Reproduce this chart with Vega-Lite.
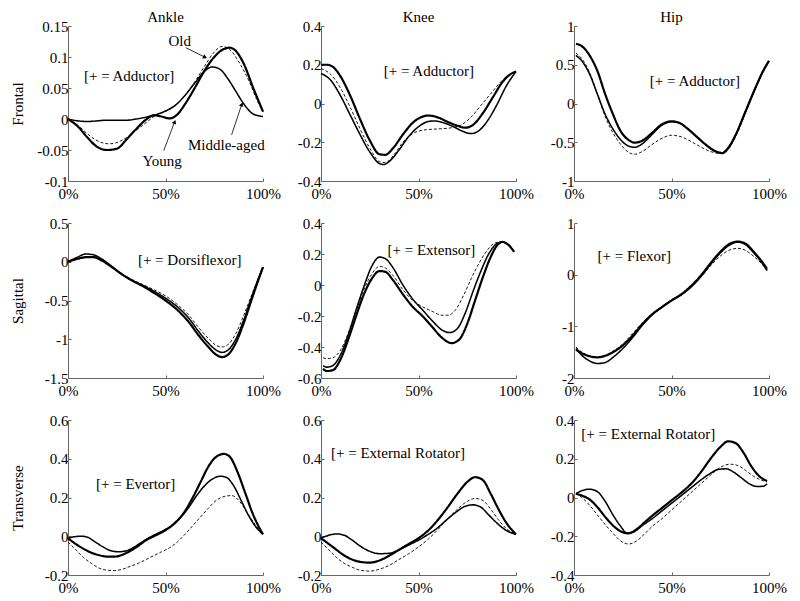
{
"$schema":"https://vega.github.io/schema/vega-lite/v6.json",
"padding":{"left":10,"top":10,"right":5,"bottom":5},
"background":"white",
"datasets":{
"curves":[
{"p":"AF","g":"Y","x":0,"y":0},{"p":"AF","g":"Y","x":5,"y":-0.012},{"p":"AF","g":"Y","x":10,"y":-0.03},{"p":"AF","g":"Y","x":15,"y":-0.045},{"p":"AF","g":"Y","x":20,"y":-0.05},{"p":"AF","g":"Y","x":25,"y":-0.048},{"p":"AF","g":"Y","x":30,"y":-0.033},{"p":"AF","g":"Y","x":35,"y":-0.016},{"p":"AF","g":"Y","x":40,"y":-0.001},{"p":"AF","g":"Y","x":44,"y":0.006},{"p":"AF","g":"Y","x":48,"y":0.004},{"p":"AF","g":"Y","x":52,"y":0.001},{"p":"AF","g":"Y","x":56,"y":0.007},{"p":"AF","g":"Y","x":60,"y":0.024},{"p":"AF","g":"Y","x":65,"y":0.05},{"p":"AF","g":"Y","x":70,"y":0.078},{"p":"AF","g":"Y","x":75,"y":0.1},{"p":"AF","g":"Y","x":80,"y":0.113},{"p":"AF","g":"Y","x":83,"y":0.115},{"p":"AF","g":"Y","x":86,"y":0.11},{"p":"AF","g":"Y","x":90,"y":0.09},{"p":"AF","g":"Y","x":95,"y":0.05},{"p":"AF","g":"Y","x":100,"y":0.012},
{"p":"AF","g":"M","x":0,"y":0},{"p":"AF","g":"M","x":5,"y":-0.003},{"p":"AF","g":"M","x":10,"y":-0.004},{"p":"AF","g":"M","x":20,"y":-0.002},{"p":"AF","g":"M","x":30,"y":-0.002},{"p":"AF","g":"M","x":35,"y":0},{"p":"AF","g":"M","x":40,"y":0.003},{"p":"AF","g":"M","x":45,"y":0.007},{"p":"AF","g":"M","x":50,"y":0.013},{"p":"AF","g":"M","x":55,"y":0.022},{"p":"AF","g":"M","x":60,"y":0.038},{"p":"AF","g":"M","x":65,"y":0.058},{"p":"AF","g":"M","x":70,"y":0.077},{"p":"AF","g":"M","x":74,"y":0.084},{"p":"AF","g":"M","x":78,"y":0.08},{"p":"AF","g":"M","x":82,"y":0.065},{"p":"AF","g":"M","x":86,"y":0.045},{"p":"AF","g":"M","x":90,"y":0.025},{"p":"AF","g":"M","x":95,"y":0.008},{"p":"AF","g":"M","x":100,"y":0.004},
{"p":"AF","g":"O","x":0,"y":0},{"p":"AF","g":"O","x":5,"y":-0.01},{"p":"AF","g":"O","x":10,"y":-0.024},{"p":"AF","g":"O","x":15,"y":-0.035},{"p":"AF","g":"O","x":21,"y":-0.04},{"p":"AF","g":"O","x":25,"y":-0.038},{"p":"AF","g":"O","x":30,"y":-0.03},{"p":"AF","g":"O","x":35,"y":-0.018},{"p":"AF","g":"O","x":40,"y":-0.006},{"p":"AF","g":"O","x":45,"y":0.006},{"p":"AF","g":"O","x":50,"y":0.012},{"p":"AF","g":"O","x":55,"y":0.022},{"p":"AF","g":"O","x":60,"y":0.038},{"p":"AF","g":"O","x":65,"y":0.06},{"p":"AF","g":"O","x":70,"y":0.085},{"p":"AF","g":"O","x":75,"y":0.108},{"p":"AF","g":"O","x":79,"y":0.117},{"p":"AF","g":"O","x":83,"y":0.112},{"p":"AF","g":"O","x":88,"y":0.09},{"p":"AF","g":"O","x":93,"y":0.06},{"p":"AF","g":"O","x":97,"y":0.03},{"p":"AF","g":"O","x":100,"y":0.012},

{"p":"KF","g":"Y","x":0,"y":0.2},{"p":"KF","g":"Y","x":3,"y":0.2},{"p":"KF","g":"Y","x":6,"y":0.19},{"p":"KF","g":"Y","x":10,"y":0.14},{"p":"KF","g":"Y","x":15,"y":0.04},{"p":"KF","g":"Y","x":20,"y":-0.08},{"p":"KF","g":"Y","x":25,"y":-0.19},{"p":"KF","g":"Y","x":30,"y":-0.262},{"p":"KF","g":"Y","x":33,"y":-0.265},{"p":"KF","g":"Y","x":37,"y":-0.23},{"p":"KF","g":"Y","x":42,"y":-0.16},{"p":"KF","g":"Y","x":47,"y":-0.1},{"p":"KF","g":"Y","x":52,"y":-0.068},{"p":"KF","g":"Y","x":55,"y":-0.062},{"p":"KF","g":"Y","x":60,"y":-0.072},{"p":"KF","g":"Y","x":65,"y":-0.095},{"p":"KF","g":"Y","x":70,"y":-0.115},{"p":"KF","g":"Y","x":74,"y":-0.125},{"p":"KF","g":"Y","x":78,"y":-0.11},{"p":"KF","g":"Y","x":83,"y":-0.05},{"p":"KF","g":"Y","x":88,"y":0.03},{"p":"KF","g":"Y","x":93,"y":0.11},{"p":"KF","g":"Y","x":97,"y":0.15},{"p":"KF","g":"Y","x":100,"y":0.165},
{"p":"KF","g":"M","x":0,"y":0.155},{"p":"KF","g":"M","x":5,"y":0.12},{"p":"KF","g":"M","x":10,"y":0.04},{"p":"KF","g":"M","x":15,"y":-0.06},{"p":"KF","g":"M","x":20,"y":-0.16},{"p":"KF","g":"M","x":25,"y":-0.25},{"p":"KF","g":"M","x":30,"y":-0.31},{"p":"KF","g":"M","x":32,"y":-0.315},{"p":"KF","g":"M","x":36,"y":-0.29},{"p":"KF","g":"M","x":40,"y":-0.24},{"p":"KF","g":"M","x":45,"y":-0.17},{"p":"KF","g":"M","x":50,"y":-0.12},{"p":"KF","g":"M","x":55,"y":-0.093},{"p":"KF","g":"M","x":58,"y":-0.09},{"p":"KF","g":"M","x":63,"y":-0.1},{"p":"KF","g":"M","x":68,"y":-0.12},{"p":"KF","g":"M","x":73,"y":-0.145},{"p":"KF","g":"M","x":77,"y":-0.155},{"p":"KF","g":"M","x":81,"y":-0.14},{"p":"KF","g":"M","x":86,"y":-0.08},{"p":"KF","g":"M","x":90,"y":-0.01},{"p":"KF","g":"M","x":95,"y":0.09},{"p":"KF","g":"M","x":100,"y":0.165},
{"p":"KF","g":"O","x":0,"y":0.18},{"p":"KF","g":"O","x":5,"y":0.15},{"p":"KF","g":"O","x":10,"y":0.08},{"p":"KF","g":"O","x":15,"y":-0.02},{"p":"KF","g":"O","x":20,"y":-0.13},{"p":"KF","g":"O","x":25,"y":-0.23},{"p":"KF","g":"O","x":30,"y":-0.3},{"p":"KF","g":"O","x":33,"y":-0.305},{"p":"KF","g":"O","x":37,"y":-0.27},{"p":"KF","g":"O","x":42,"y":-0.2},{"p":"KF","g":"O","x":47,"y":-0.155},{"p":"KF","g":"O","x":52,"y":-0.138},{"p":"KF","g":"O","x":57,"y":-0.133},{"p":"KF","g":"O","x":62,"y":-0.13},{"p":"KF","g":"O","x":67,"y":-0.125},{"p":"KF","g":"O","x":72,"y":-0.11},{"p":"KF","g":"O","x":77,"y":-0.07},{"p":"KF","g":"O","x":82,"y":-0.01},{"p":"KF","g":"O","x":87,"y":0.05},{"p":"KF","g":"O","x":92,"y":0.11},{"p":"KF","g":"O","x":96,"y":0.145},{"p":"KF","g":"O","x":100,"y":0.165},

{"p":"HF","g":"Y","x":1,"y":0.77},{"p":"HF","g":"Y","x":4,"y":0.74},{"p":"HF","g":"Y","x":8,"y":0.62},{"p":"HF","g":"Y","x":12,"y":0.42},{"p":"HF","g":"Y","x":16,"y":0.12},{"p":"HF","g":"Y","x":20,"y":-0.14},{"p":"HF","g":"Y","x":24,"y":-0.36},{"p":"HF","g":"Y","x":28,"y":-0.47},{"p":"HF","g":"Y","x":31,"y":-0.505},{"p":"HF","g":"Y","x":35,"y":-0.48},{"p":"HF","g":"Y","x":40,"y":-0.38},{"p":"HF","g":"Y","x":45,"y":-0.27},{"p":"HF","g":"Y","x":50,"y":-0.23},{"p":"HF","g":"Y","x":54,"y":-0.25},{"p":"HF","g":"Y","x":58,"y":-0.32},{"p":"HF","g":"Y","x":63,"y":-0.43},{"p":"HF","g":"Y","x":68,"y":-0.54},{"p":"HF","g":"Y","x":72,"y":-0.61},{"p":"HF","g":"Y","x":76,"y":-0.64},{"p":"HF","g":"Y","x":79,"y":-0.58},{"p":"HF","g":"Y","x":83,"y":-0.4},{"p":"HF","g":"Y","x":88,"y":-0.1},{"p":"HF","g":"Y","x":93,"y":0.2},{"p":"HF","g":"Y","x":97,"y":0.42},{"p":"HF","g":"Y","x":100,"y":0.55},
{"p":"HF","g":"M","x":1,"y":0.62},{"p":"HF","g":"M","x":4,"y":0.55},{"p":"HF","g":"M","x":8,"y":0.38},{"p":"HF","g":"M","x":12,"y":0.12},{"p":"HF","g":"M","x":16,"y":-0.14},{"p":"HF","g":"M","x":20,"y":-0.33},{"p":"HF","g":"M","x":24,"y":-0.47},{"p":"HF","g":"M","x":28,"y":-0.55},{"p":"HF","g":"M","x":31,"y":-0.565},{"p":"HF","g":"M","x":35,"y":-0.52},{"p":"HF","g":"M","x":40,"y":-0.4},{"p":"HF","g":"M","x":45,"y":-0.28},{"p":"HF","g":"M","x":50,"y":-0.235},{"p":"HF","g":"M","x":54,"y":-0.25},{"p":"HF","g":"M","x":58,"y":-0.32},{"p":"HF","g":"M","x":63,"y":-0.43},{"p":"HF","g":"M","x":68,"y":-0.54},{"p":"HF","g":"M","x":72,"y":-0.61},{"p":"HF","g":"M","x":76,"y":-0.635},{"p":"HF","g":"M","x":79,"y":-0.57},{"p":"HF","g":"M","x":83,"y":-0.4},{"p":"HF","g":"M","x":88,"y":-0.1},{"p":"HF","g":"M","x":93,"y":0.2},{"p":"HF","g":"M","x":97,"y":0.42},{"p":"HF","g":"M","x":100,"y":0.55},
{"p":"HF","g":"O","x":1,"y":0.65},{"p":"HF","g":"O","x":4,"y":0.58},{"p":"HF","g":"O","x":8,"y":0.4},{"p":"HF","g":"O","x":12,"y":0.12},{"p":"HF","g":"O","x":16,"y":-0.17},{"p":"HF","g":"O","x":20,"y":-0.38},{"p":"HF","g":"O","x":24,"y":-0.53},{"p":"HF","g":"O","x":28,"y":-0.63},{"p":"HF","g":"O","x":31,"y":-0.655},{"p":"HF","g":"O","x":35,"y":-0.62},{"p":"HF","g":"O","x":40,"y":-0.53},{"p":"HF","g":"O","x":45,"y":-0.45},{"p":"HF","g":"O","x":50,"y":-0.41},{"p":"HF","g":"O","x":55,"y":-0.43},{"p":"HF","g":"O","x":60,"y":-0.49},{"p":"HF","g":"O","x":65,"y":-0.56},{"p":"HF","g":"O","x":70,"y":-0.62},{"p":"HF","g":"O","x":75,"y":-0.645},{"p":"HF","g":"O","x":79,"y":-0.59},{"p":"HF","g":"O","x":83,"y":-0.42},{"p":"HF","g":"O","x":88,"y":-0.12},{"p":"HF","g":"O","x":93,"y":0.19},{"p":"HF","g":"O","x":97,"y":0.41},{"p":"HF","g":"O","x":100,"y":0.54},

{"p":"AS","g":"Y","x":0,"y":0},{"p":"AS","g":"Y","x":5,"y":0.04},{"p":"AS","g":"Y","x":10,"y":0.06},{"p":"AS","g":"Y","x":13,"y":0.06},{"p":"AS","g":"Y","x":17,"y":0.02},{"p":"AS","g":"Y","x":22,"y":-0.06},{"p":"AS","g":"Y","x":27,"y":-0.15},{"p":"AS","g":"Y","x":32,"y":-0.23},{"p":"AS","g":"Y","x":38,"y":-0.31},{"p":"AS","g":"Y","x":44,"y":-0.4},{"p":"AS","g":"Y","x":50,"y":-0.5},{"p":"AS","g":"Y","x":56,"y":-0.62},{"p":"AS","g":"Y","x":62,"y":-0.78},{"p":"AS","g":"Y","x":67,"y":-0.95},{"p":"AS","g":"Y","x":72,"y":-1.1},{"p":"AS","g":"Y","x":76,"y":-1.2},{"p":"AS","g":"Y","x":79,"y":-1.23},{"p":"AS","g":"Y","x":82,"y":-1.2},{"p":"AS","g":"Y","x":86,"y":-1.05},{"p":"AS","g":"Y","x":90,"y":-0.8},{"p":"AS","g":"Y","x":94,"y":-0.5},{"p":"AS","g":"Y","x":97,"y":-0.28},{"p":"AS","g":"Y","x":100,"y":-0.07},
{"p":"AS","g":"M","x":0,"y":0},{"p":"AS","g":"M","x":5,"y":0.06},{"p":"AS","g":"M","x":9,"y":0.1},{"p":"AS","g":"M","x":13,"y":0.09},{"p":"AS","g":"M","x":17,"y":0.04},{"p":"AS","g":"M","x":22,"y":-0.05},{"p":"AS","g":"M","x":27,"y":-0.15},{"p":"AS","g":"M","x":32,"y":-0.23},{"p":"AS","g":"M","x":38,"y":-0.3},{"p":"AS","g":"M","x":44,"y":-0.38},{"p":"AS","g":"M","x":50,"y":-0.47},{"p":"AS","g":"M","x":56,"y":-0.58},{"p":"AS","g":"M","x":62,"y":-0.73},{"p":"AS","g":"M","x":67,"y":-0.9},{"p":"AS","g":"M","x":72,"y":-1.05},{"p":"AS","g":"M","x":76,"y":-1.14},{"p":"AS","g":"M","x":79,"y":-1.17},{"p":"AS","g":"M","x":82,"y":-1.14},{"p":"AS","g":"M","x":86,"y":-1.0},{"p":"AS","g":"M","x":90,"y":-0.76},{"p":"AS","g":"M","x":94,"y":-0.47},{"p":"AS","g":"M","x":97,"y":-0.26},{"p":"AS","g":"M","x":100,"y":-0.07},
{"p":"AS","g":"O","x":0,"y":0},{"p":"AS","g":"O","x":5,"y":0.03},{"p":"AS","g":"O","x":10,"y":0.06},{"p":"AS","g":"O","x":13,"y":0.055},{"p":"AS","g":"O","x":17,"y":0.02},{"p":"AS","g":"O","x":22,"y":-0.06},{"p":"AS","g":"O","x":27,"y":-0.15},{"p":"AS","g":"O","x":32,"y":-0.22},{"p":"AS","g":"O","x":38,"y":-0.29},{"p":"AS","g":"O","x":44,"y":-0.36},{"p":"AS","g":"O","x":50,"y":-0.44},{"p":"AS","g":"O","x":56,"y":-0.55},{"p":"AS","g":"O","x":62,"y":-0.69},{"p":"AS","g":"O","x":67,"y":-0.85},{"p":"AS","g":"O","x":72,"y":-0.99},{"p":"AS","g":"O","x":76,"y":-1.08},{"p":"AS","g":"O","x":79,"y":-1.1},{"p":"AS","g":"O","x":82,"y":-1.07},{"p":"AS","g":"O","x":86,"y":-0.93},{"p":"AS","g":"O","x":90,"y":-0.7},{"p":"AS","g":"O","x":94,"y":-0.44},{"p":"AS","g":"O","x":97,"y":-0.25},{"p":"AS","g":"O","x":100,"y":-0.07},

{"p":"KS","g":"Y","x":1,"y":-0.54},{"p":"KS","g":"Y","x":3,"y":-0.555},{"p":"KS","g":"Y","x":6,"y":-0.55},{"p":"KS","g":"Y","x":10,"y":-0.48},{"p":"KS","g":"Y","x":14,"y":-0.35},{"p":"KS","g":"Y","x":18,"y":-0.2},{"p":"KS","g":"Y","x":22,"y":-0.06},{"p":"KS","g":"Y","x":26,"y":0.04},{"p":"KS","g":"Y","x":30,"y":0.09},{"p":"KS","g":"Y","x":33,"y":0.085},{"p":"KS","g":"Y","x":37,"y":0.03},{"p":"KS","g":"Y","x":42,"y":-0.06},{"p":"KS","g":"Y","x":47,"y":-0.14},{"p":"KS","g":"Y","x":52,"y":-0.2},{"p":"KS","g":"Y","x":57,"y":-0.27},{"p":"KS","g":"Y","x":62,"y":-0.34},{"p":"KS","g":"Y","x":67,"y":-0.375},{"p":"KS","g":"Y","x":71,"y":-0.35},{"p":"KS","g":"Y","x":75,"y":-0.25},{"p":"KS","g":"Y","x":79,"y":-0.1},{"p":"KS","g":"Y","x":83,"y":0.05},{"p":"KS","g":"Y","x":87,"y":0.18},{"p":"KS","g":"Y","x":90,"y":0.25},{"p":"KS","g":"Y","x":93,"y":0.278},{"p":"KS","g":"Y","x":96,"y":0.26},{"p":"KS","g":"Y","x":99,"y":0.215},
{"p":"KS","g":"M","x":1,"y":-0.52},{"p":"KS","g":"M","x":3,"y":-0.53},{"p":"KS","g":"M","x":6,"y":-0.52},{"p":"KS","g":"M","x":10,"y":-0.45},{"p":"KS","g":"M","x":14,"y":-0.32},{"p":"KS","g":"M","x":18,"y":-0.16},{"p":"KS","g":"M","x":22,"y":-0.01},{"p":"KS","g":"M","x":26,"y":0.12},{"p":"KS","g":"M","x":30,"y":0.18},{"p":"KS","g":"M","x":33,"y":0.17},{"p":"KS","g":"M","x":37,"y":0.11},{"p":"KS","g":"M","x":42,"y":0.0},{"p":"KS","g":"M","x":47,"y":-0.09},{"p":"KS","g":"M","x":52,"y":-0.16},{"p":"KS","g":"M","x":57,"y":-0.23},{"p":"KS","g":"M","x":62,"y":-0.29},{"p":"KS","g":"M","x":66,"y":-0.307},{"p":"KS","g":"M","x":70,"y":-0.28},{"p":"KS","g":"M","x":74,"y":-0.18},{"p":"KS","g":"M","x":78,"y":-0.04},{"p":"KS","g":"M","x":82,"y":0.09},{"p":"KS","g":"M","x":86,"y":0.2},{"p":"KS","g":"M","x":90,"y":0.265},{"p":"KS","g":"M","x":93,"y":0.278},{"p":"KS","g":"M","x":96,"y":0.26},{"p":"KS","g":"M","x":99,"y":0.215},
{"p":"KS","g":"O","x":1,"y":-0.47},{"p":"KS","g":"O","x":3,"y":-0.475},{"p":"KS","g":"O","x":6,"y":-0.47},{"p":"KS","g":"O","x":10,"y":-0.42},{"p":"KS","g":"O","x":14,"y":-0.31},{"p":"KS","g":"O","x":18,"y":-0.17},{"p":"KS","g":"O","x":22,"y":-0.03},{"p":"KS","g":"O","x":26,"y":0.07},{"p":"KS","g":"O","x":30,"y":0.12},{"p":"KS","g":"O","x":33,"y":0.11},{"p":"KS","g":"O","x":37,"y":0.06},{"p":"KS","g":"O","x":42,"y":-0.03},{"p":"KS","g":"O","x":47,"y":-0.1},{"p":"KS","g":"O","x":52,"y":-0.14},{"p":"KS","g":"O","x":57,"y":-0.17},{"p":"KS","g":"O","x":62,"y":-0.195},{"p":"KS","g":"O","x":65,"y":-0.195},{"p":"KS","g":"O","x":69,"y":-0.16},{"p":"KS","g":"O","x":73,"y":-0.07},{"p":"KS","g":"O","x":77,"y":0.04},{"p":"KS","g":"O","x":81,"y":0.14},{"p":"KS","g":"O","x":85,"y":0.22},{"p":"KS","g":"O","x":89,"y":0.27},{"p":"KS","g":"O","x":92,"y":0.278},{"p":"KS","g":"O","x":96,"y":0.26},{"p":"KS","g":"O","x":99,"y":0.215},

{"p":"HS","g":"Y","x":1,"y":-1.45},{"p":"HS","g":"Y","x":4,"y":-1.52},{"p":"HS","g":"Y","x":8,"y":-1.58},{"p":"HS","g":"Y","x":12,"y":-1.6},{"p":"HS","g":"Y","x":16,"y":-1.57},{"p":"HS","g":"Y","x":20,"y":-1.5},{"p":"HS","g":"Y","x":25,"y":-1.37},{"p":"HS","g":"Y","x":30,"y":-1.18},{"p":"HS","g":"Y","x":35,"y":-0.96},{"p":"HS","g":"Y","x":40,"y":-0.77},{"p":"HS","g":"Y","x":45,"y":-0.63},{"p":"HS","g":"Y","x":50,"y":-0.5},{"p":"HS","g":"Y","x":55,"y":-0.38},{"p":"HS","g":"Y","x":60,"y":-0.22},{"p":"HS","g":"Y","x":65,"y":-0.02},{"p":"HS","g":"Y","x":70,"y":0.22},{"p":"HS","g":"Y","x":75,"y":0.44},{"p":"HS","g":"Y","x":80,"y":0.6},{"p":"HS","g":"Y","x":84,"y":0.64},{"p":"HS","g":"Y","x":88,"y":0.6},{"p":"HS","g":"Y","x":92,"y":0.45},{"p":"HS","g":"Y","x":96,"y":0.27},{"p":"HS","g":"Y","x":99,"y":0.11},
{"p":"HS","g":"M","x":1,"y":-1.43},{"p":"HS","g":"M","x":4,"y":-1.56},{"p":"HS","g":"M","x":8,"y":-1.67},{"p":"HS","g":"M","x":12,"y":-1.72},{"p":"HS","g":"M","x":16,"y":-1.7},{"p":"HS","g":"M","x":20,"y":-1.6},{"p":"HS","g":"M","x":25,"y":-1.43},{"p":"HS","g":"M","x":30,"y":-1.22},{"p":"HS","g":"M","x":35,"y":-0.98},{"p":"HS","g":"M","x":40,"y":-0.78},{"p":"HS","g":"M","x":45,"y":-0.63},{"p":"HS","g":"M","x":50,"y":-0.5},{"p":"HS","g":"M","x":55,"y":-0.39},{"p":"HS","g":"M","x":60,"y":-0.24},{"p":"HS","g":"M","x":65,"y":-0.04},{"p":"HS","g":"M","x":70,"y":0.2},{"p":"HS","g":"M","x":75,"y":0.42},{"p":"HS","g":"M","x":80,"y":0.58},{"p":"HS","g":"M","x":84,"y":0.63},{"p":"HS","g":"M","x":88,"y":0.58},{"p":"HS","g":"M","x":92,"y":0.43},{"p":"HS","g":"M","x":96,"y":0.25},{"p":"HS","g":"M","x":99,"y":0.08},
{"p":"HS","g":"O","x":1,"y":-1.4},{"p":"HS","g":"O","x":4,"y":-1.5},{"p":"HS","g":"O","x":8,"y":-1.57},{"p":"HS","g":"O","x":12,"y":-1.59},{"p":"HS","g":"O","x":16,"y":-1.56},{"p":"HS","g":"O","x":20,"y":-1.48},{"p":"HS","g":"O","x":25,"y":-1.34},{"p":"HS","g":"O","x":30,"y":-1.14},{"p":"HS","g":"O","x":35,"y":-0.93},{"p":"HS","g":"O","x":40,"y":-0.76},{"p":"HS","g":"O","x":45,"y":-0.62},{"p":"HS","g":"O","x":50,"y":-0.49},{"p":"HS","g":"O","x":55,"y":-0.38},{"p":"HS","g":"O","x":60,"y":-0.24},{"p":"HS","g":"O","x":65,"y":-0.05},{"p":"HS","g":"O","x":70,"y":0.17},{"p":"HS","g":"O","x":75,"y":0.36},{"p":"HS","g":"O","x":80,"y":0.48},{"p":"HS","g":"O","x":84,"y":0.51},{"p":"HS","g":"O","x":88,"y":0.47},{"p":"HS","g":"O","x":92,"y":0.36},{"p":"HS","g":"O","x":96,"y":0.22},{"p":"HS","g":"O","x":99,"y":0.08},

{"p":"AT","g":"Y","x":0,"y":-0.01},{"p":"AT","g":"Y","x":4,"y":-0.04},{"p":"AT","g":"Y","x":8,"y":-0.065},{"p":"AT","g":"Y","x":12,"y":-0.085},{"p":"AT","g":"Y","x":16,"y":-0.098},{"p":"AT","g":"Y","x":20,"y":-0.105},{"p":"AT","g":"Y","x":24,"y":-0.105},{"p":"AT","g":"Y","x":28,"y":-0.095},{"p":"AT","g":"Y","x":32,"y":-0.075},{"p":"AT","g":"Y","x":36,"y":-0.05},{"p":"AT","g":"Y","x":40,"y":-0.02},{"p":"AT","g":"Y","x":44,"y":0.0},{"p":"AT","g":"Y","x":48,"y":0.02},{"p":"AT","g":"Y","x":52,"y":0.045},{"p":"AT","g":"Y","x":56,"y":0.08},{"p":"AT","g":"Y","x":60,"y":0.13},{"p":"AT","g":"Y","x":64,"y":0.2},{"p":"AT","g":"Y","x":68,"y":0.28},{"p":"AT","g":"Y","x":72,"y":0.36},{"p":"AT","g":"Y","x":76,"y":0.41},{"p":"AT","g":"Y","x":80,"y":0.425},{"p":"AT","g":"Y","x":83,"y":0.41},{"p":"AT","g":"Y","x":87,"y":0.33},{"p":"AT","g":"Y","x":91,"y":0.22},{"p":"AT","g":"Y","x":95,"y":0.11},{"p":"AT","g":"Y","x":100,"y":0.01},
{"p":"AT","g":"M","x":0,"y":-0.01},{"p":"AT","g":"M","x":3,"y":-0.003},{"p":"AT","g":"M","x":7,"y":0.0},{"p":"AT","g":"M","x":10,"y":-0.005},{"p":"AT","g":"M","x":14,"y":-0.03},{"p":"AT","g":"M","x":18,"y":-0.055},{"p":"AT","g":"M","x":22,"y":-0.075},{"p":"AT","g":"M","x":26,"y":-0.08},{"p":"AT","g":"M","x":30,"y":-0.075},{"p":"AT","g":"M","x":34,"y":-0.055},{"p":"AT","g":"M","x":38,"y":-0.03},{"p":"AT","g":"M","x":42,"y":-0.005},{"p":"AT","g":"M","x":46,"y":0.015},{"p":"AT","g":"M","x":50,"y":0.035},{"p":"AT","g":"M","x":54,"y":0.06},{"p":"AT","g":"M","x":58,"y":0.1},{"p":"AT","g":"M","x":62,"y":0.15},{"p":"AT","g":"M","x":66,"y":0.21},{"p":"AT","g":"M","x":70,"y":0.26},{"p":"AT","g":"M","x":74,"y":0.295},{"p":"AT","g":"M","x":78,"y":0.31},{"p":"AT","g":"M","x":81,"y":0.305},{"p":"AT","g":"M","x":85,"y":0.26},{"p":"AT","g":"M","x":89,"y":0.18},{"p":"AT","g":"M","x":93,"y":0.1},{"p":"AT","g":"M","x":97,"y":0.04},{"p":"AT","g":"M","x":100,"y":0.01},
{"p":"AT","g":"O","x":0,"y":-0.03},{"p":"AT","g":"O","x":4,"y":-0.07},{"p":"AT","g":"O","x":8,"y":-0.11},{"p":"AT","g":"O","x":12,"y":-0.14},{"p":"AT","g":"O","x":16,"y":-0.165},{"p":"AT","g":"O","x":20,"y":-0.175},{"p":"AT","g":"O","x":24,"y":-0.177},{"p":"AT","g":"O","x":28,"y":-0.17},{"p":"AT","g":"O","x":32,"y":-0.155},{"p":"AT","g":"O","x":36,"y":-0.14},{"p":"AT","g":"O","x":40,"y":-0.12},{"p":"AT","g":"O","x":44,"y":-0.1},{"p":"AT","g":"O","x":48,"y":-0.08},{"p":"AT","g":"O","x":52,"y":-0.06},{"p":"AT","g":"O","x":56,"y":-0.03},{"p":"AT","g":"O","x":60,"y":0.01},{"p":"AT","g":"O","x":64,"y":0.055},{"p":"AT","g":"O","x":68,"y":0.1},{"p":"AT","g":"O","x":72,"y":0.145},{"p":"AT","g":"O","x":76,"y":0.185},{"p":"AT","g":"O","x":80,"y":0.205},{"p":"AT","g":"O","x":84,"y":0.21},{"p":"AT","g":"O","x":88,"y":0.18},{"p":"AT","g":"O","x":92,"y":0.12},{"p":"AT","g":"O","x":96,"y":0.06},{"p":"AT","g":"O","x":100,"y":0.01},

{"p":"KT","g":"Y","x":0,"y":-0.01},{"p":"KT","g":"Y","x":4,"y":-0.04},{"p":"KT","g":"Y","x":8,"y":-0.07},{"p":"KT","g":"Y","x":12,"y":-0.1},{"p":"KT","g":"Y","x":16,"y":-0.12},{"p":"KT","g":"Y","x":20,"y":-0.132},{"p":"KT","g":"Y","x":25,"y":-0.136},{"p":"KT","g":"Y","x":30,"y":-0.125},{"p":"KT","g":"Y","x":35,"y":-0.1},{"p":"KT","g":"Y","x":40,"y":-0.07},{"p":"KT","g":"Y","x":45,"y":-0.04},{"p":"KT","g":"Y","x":50,"y":-0.01},{"p":"KT","g":"Y","x":55,"y":0.03},{"p":"KT","g":"Y","x":60,"y":0.085},{"p":"KT","g":"Y","x":65,"y":0.15},{"p":"KT","g":"Y","x":70,"y":0.22},{"p":"KT","g":"Y","x":75,"y":0.28},{"p":"KT","g":"Y","x":79,"y":0.305},{"p":"KT","g":"Y","x":83,"y":0.29},{"p":"KT","g":"Y","x":87,"y":0.22},{"p":"KT","g":"Y","x":91,"y":0.14},{"p":"KT","g":"Y","x":95,"y":0.07},{"p":"KT","g":"Y","x":100,"y":0.01},
{"p":"KT","g":"M","x":0,"y":-0.01},{"p":"KT","g":"M","x":4,"y":0.005},{"p":"KT","g":"M","x":8,"y":0.012},{"p":"KT","g":"M","x":12,"y":0.005},{"p":"KT","g":"M","x":16,"y":-0.02},{"p":"KT","g":"M","x":20,"y":-0.05},{"p":"KT","g":"M","x":25,"y":-0.078},{"p":"KT","g":"M","x":30,"y":-0.09},{"p":"KT","g":"M","x":35,"y":-0.088},{"p":"KT","g":"M","x":40,"y":-0.07},{"p":"KT","g":"M","x":45,"y":-0.045},{"p":"KT","g":"M","x":50,"y":-0.02},{"p":"KT","g":"M","x":55,"y":0.01},{"p":"KT","g":"M","x":60,"y":0.045},{"p":"KT","g":"M","x":65,"y":0.09},{"p":"KT","g":"M","x":70,"y":0.13},{"p":"KT","g":"M","x":74,"y":0.155},{"p":"KT","g":"M","x":78,"y":0.162},{"p":"KT","g":"M","x":82,"y":0.15},{"p":"KT","g":"M","x":86,"y":0.11},{"p":"KT","g":"M","x":90,"y":0.07},{"p":"KT","g":"M","x":95,"y":0.03},{"p":"KT","g":"M","x":100,"y":0.01},
{"p":"KT","g":"O","x":0,"y":-0.03},{"p":"KT","g":"O","x":4,"y":-0.07},{"p":"KT","g":"O","x":8,"y":-0.11},{"p":"KT","g":"O","x":12,"y":-0.14},{"p":"KT","g":"O","x":16,"y":-0.16},{"p":"KT","g":"O","x":20,"y":-0.175},{"p":"KT","g":"O","x":25,"y":-0.18},{"p":"KT","g":"O","x":30,"y":-0.17},{"p":"KT","g":"O","x":35,"y":-0.15},{"p":"KT","g":"O","x":40,"y":-0.12},{"p":"KT","g":"O","x":45,"y":-0.09},{"p":"KT","g":"O","x":50,"y":-0.055},{"p":"KT","g":"O","x":55,"y":-0.015},{"p":"KT","g":"O","x":60,"y":0.035},{"p":"KT","g":"O","x":65,"y":0.09},{"p":"KT","g":"O","x":70,"y":0.14},{"p":"KT","g":"O","x":75,"y":0.18},{"p":"KT","g":"O","x":79,"y":0.195},{"p":"KT","g":"O","x":83,"y":0.185},{"p":"KT","g":"O","x":87,"y":0.14},{"p":"KT","g":"O","x":91,"y":0.085},{"p":"KT","g":"O","x":95,"y":0.04},{"p":"KT","g":"O","x":100,"y":0.01},

{"p":"HT","g":"Y","x":1,"y":0.02},{"p":"HT","g":"Y","x":4,"y":0.01},{"p":"HT","g":"Y","x":8,"y":-0.01},{"p":"HT","g":"Y","x":12,"y":-0.05},{"p":"HT","g":"Y","x":16,"y":-0.1},{"p":"HT","g":"Y","x":20,"y":-0.145},{"p":"HT","g":"Y","x":24,"y":-0.175},{"p":"HT","g":"Y","x":28,"y":-0.185},{"p":"HT","g":"Y","x":32,"y":-0.165},{"p":"HT","g":"Y","x":36,"y":-0.13},{"p":"HT","g":"Y","x":40,"y":-0.095},{"p":"HT","g":"Y","x":45,"y":-0.055},{"p":"HT","g":"Y","x":50,"y":-0.015},{"p":"HT","g":"Y","x":55,"y":0.025},{"p":"HT","g":"Y","x":60,"y":0.07},{"p":"HT","g":"Y","x":65,"y":0.13},{"p":"HT","g":"Y","x":70,"y":0.2},{"p":"HT","g":"Y","x":75,"y":0.26},{"p":"HT","g":"Y","x":79,"y":0.29},{"p":"HT","g":"Y","x":83,"y":0.28},{"p":"HT","g":"Y","x":87,"y":0.23},{"p":"HT","g":"Y","x":91,"y":0.16},{"p":"HT","g":"Y","x":95,"y":0.11},{"p":"HT","g":"Y","x":99,"y":0.085},
{"p":"HT","g":"M","x":1,"y":0.02},{"p":"HT","g":"M","x":4,"y":0.035},{"p":"HT","g":"M","x":8,"y":0.043},{"p":"HT","g":"M","x":12,"y":0.03},{"p":"HT","g":"M","x":16,"y":-0.02},{"p":"HT","g":"M","x":20,"y":-0.09},{"p":"HT","g":"M","x":24,"y":-0.15},{"p":"HT","g":"M","x":27,"y":-0.183},{"p":"HT","g":"M","x":31,"y":-0.175},{"p":"HT","g":"M","x":35,"y":-0.145},{"p":"HT","g":"M","x":40,"y":-0.11},{"p":"HT","g":"M","x":45,"y":-0.07},{"p":"HT","g":"M","x":50,"y":-0.03},{"p":"HT","g":"M","x":55,"y":0.01},{"p":"HT","g":"M","x":60,"y":0.05},{"p":"HT","g":"M","x":65,"y":0.09},{"p":"HT","g":"M","x":70,"y":0.125},{"p":"HT","g":"M","x":74,"y":0.145},{"p":"HT","g":"M","x":78,"y":0.148},{"p":"HT","g":"M","x":82,"y":0.13},{"p":"HT","g":"M","x":86,"y":0.1},{"p":"HT","g":"M","x":90,"y":0.07},{"p":"HT","g":"M","x":94,"y":0.057},{"p":"HT","g":"M","x":97,"y":0.058},{"p":"HT","g":"M","x":99,"y":0.07},
{"p":"HT","g":"O","x":1,"y":0.02},{"p":"HT","g":"O","x":4,"y":0.0},{"p":"HT","g":"O","x":8,"y":-0.04},{"p":"HT","g":"O","x":12,"y":-0.09},{"p":"HT","g":"O","x":16,"y":-0.14},{"p":"HT","g":"O","x":20,"y":-0.185},{"p":"HT","g":"O","x":24,"y":-0.225},{"p":"HT","g":"O","x":28,"y":-0.24},{"p":"HT","g":"O","x":32,"y":-0.225},{"p":"HT","g":"O","x":36,"y":-0.19},{"p":"HT","g":"O","x":40,"y":-0.15},{"p":"HT","g":"O","x":45,"y":-0.11},{"p":"HT","g":"O","x":50,"y":-0.065},{"p":"HT","g":"O","x":55,"y":-0.02},{"p":"HT","g":"O","x":60,"y":0.025},{"p":"HT","g":"O","x":65,"y":0.07},{"p":"HT","g":"O","x":70,"y":0.115},{"p":"HT","g":"O","x":75,"y":0.155},{"p":"HT","g":"O","x":80,"y":0.172},{"p":"HT","g":"O","x":84,"y":0.165},{"p":"HT","g":"O","x":88,"y":0.14},{"p":"HT","g":"O","x":92,"y":0.11},{"p":"HT","g":"O","x":96,"y":0.09},{"p":"HT","g":"O","x":99,"y":0.08}
],
"notes":[
{"p":"AF","x":31.3,"y":0.069,"t":"[+ = Adductor]"},
{"p":"AF","x":57.3,"y":0.126,"t":"Old"},
{"p":"AF","x":48.3,"y":-0.068,"t":"Young"},
{"p":"AF","x":81.2,"y":-0.0415,"t":"Middle-aged"},
{"p":"KF","x":55.3,"y":0.17,"t":"[+ = Adductor]"},
{"p":"HF","x":62,"y":0.295,"t":"[+ = Adductor]"},
{"p":"AS","x":62.4,"y":0.024,"t":"[+ = Dorsiflexor]"},
{"p":"KS","x":56.6,"y":0.228,"t":"[+ = Extensor]"},
{"p":"HS","x":30.9,"y":0.366,"t":"[+ = Flexor]"},
{"p":"AT","x":34.7,"y":0.27,"t":"[+ = Evertor]"},
{"p":"KT","x":39.5,"y":0.432,"t":"[+ = External Rotator]"},
{"p":"HT","x":38.1,"y":0.326,"t":"[+ = External Rotator]"}
],
"arrows":[
{"x":60.4,"y":0.115,"x2":70.3,"y2":0.0996,"a":116.6},
{"x":49.1,"y":-0.051,"x2":54.7,"y2":-0.0045,"a":20.3},
{"x":83.9,"y":-0.0256,"x2":89.1,"y2":0.0235,"a":18.4}
]
},
"columns":3,
"spacing":{"row":42,"column":58},
"bounds":"flush",
"concat":[
{"width":195,"height":155,"title":"Ankle",
 "encoding":{"x":{"field":"x","type":"quantitative","scale":{"domain":[0,100],"nice":false,"zero":false},"axis":{"values":[0,50,100],"labelExpr":"datum.value + '%'","title":null}},
  "y":{"field":"y","type":"quantitative","scale":{"domain":[-0.1,0.15],"nice":false,"zero":false},"axis":{"values":[-0.1,-0.05,0,0.05,0.1,0.15],"labelExpr":"'' + datum.value","title":"Frontal"}}},
 "layer":[
  {"data":{"name":"curves"},"transform":[{"filter":"datum.p==='AF'"}],"mark":{"type":"line","interpolate":"monotone","color":"#000"},
   "encoding":{"detail":{"field":"g"},"strokeWidth":{"field":"g","type":"ordinal","scale":{"domain":["Y","M","O"],"range":[2.2,0.9,0.9]},"legend":null},"strokeDash":{"field":"g","type":"nominal","scale":{"domain":["Y","M","O"],"range":[[1,0],[1,0],[3,2]]},"legend":null}}},
  {"data":{"name":"arrows"},"mark":{"type":"rule","color":"#000","strokeWidth":0.8},"encoding":{"x2":{"field":"x2"},"y2":{"field":"y2"}}},
  {"data":{"name":"arrows"},"mark":{"type":"point","shape":"triangle-up","filled":true,"color":"#000","size":22,"opacity":1},"encoding":{"x":{"field":"x2","type":"quantitative"},"y":{"field":"y2","type":"quantitative"},"angle":{"field":"a","type":"quantitative","scale":null}}},
  {"data":{"name":"notes"},"transform":[{"filter":"datum.p==='AF'"}],"mark":{"type":"text"},"encoding":{"text":{"field":"t"}}}
 ]},
{"width":195,"height":155,"title":"Knee",
 "encoding":{"x":{"field":"x","type":"quantitative","scale":{"domain":[0,100],"nice":false,"zero":false},"axis":{"values":[0,50,100],"labelExpr":"datum.value + '%'","title":null}},
  "y":{"field":"y","type":"quantitative","scale":{"domain":[-0.4,0.4],"nice":false,"zero":false},"axis":{"values":[-0.4,-0.2,0,0.2,0.4],"labelExpr":"'' + datum.value","title":null}}},
 "layer":[
  {"data":{"name":"curves"},"transform":[{"filter":"datum.p==='KF'"}],"mark":{"type":"line","interpolate":"monotone","color":"#000"},
   "encoding":{"detail":{"field":"g"},"strokeWidth":{"field":"g","type":"ordinal","scale":{"domain":["Y","M","O"],"range":[2.2,0.9,0.9]},"legend":null},"strokeDash":{"field":"g","type":"nominal","scale":{"domain":["Y","M","O"],"range":[[1,0],[1,0],[3,2]]},"legend":null}}},
  {"data":{"name":"notes"},"transform":[{"filter":"datum.p==='KF'"}],"mark":{"type":"text"},"encoding":{"text":{"field":"t"}}}
 ]},
{"width":195,"height":155,"title":"Hip",
 "encoding":{"x":{"field":"x","type":"quantitative","scale":{"domain":[0,100],"nice":false,"zero":false},"axis":{"values":[0,50,100],"labelExpr":"datum.value + '%'","title":null}},
  "y":{"field":"y","type":"quantitative","scale":{"domain":[-1,1],"nice":false,"zero":false},"axis":{"values":[-1,-0.5,0,0.5,1],"labelExpr":"'' + datum.value","title":null}}},
 "layer":[
  {"data":{"name":"curves"},"transform":[{"filter":"datum.p==='HF'"}],"mark":{"type":"line","interpolate":"monotone","color":"#000"},
   "encoding":{"detail":{"field":"g"},"strokeWidth":{"field":"g","type":"ordinal","scale":{"domain":["Y","M","O"],"range":[2.2,0.9,0.9]},"legend":null},"strokeDash":{"field":"g","type":"nominal","scale":{"domain":["Y","M","O"],"range":[[1,0],[1,0],[3,2]]},"legend":null}}},
  {"data":{"name":"notes"},"transform":[{"filter":"datum.p==='HF'"}],"mark":{"type":"text"},"encoding":{"text":{"field":"t"}}}
 ]},
{"width":195,"height":155,
 "encoding":{"x":{"field":"x","type":"quantitative","scale":{"domain":[0,100],"nice":false,"zero":false},"axis":{"values":[0,50,100],"labelExpr":"datum.value + '%'","title":null}},
  "y":{"field":"y","type":"quantitative","scale":{"domain":[-1.5,0.5],"nice":false,"zero":false},"axis":{"values":[-1.5,-1,-0.5,0,0.5],"labelExpr":"'' + datum.value","title":"Sagittal"}}},
 "layer":[
  {"data":{"name":"curves"},"transform":[{"filter":"datum.p==='AS'"}],"mark":{"type":"line","interpolate":"monotone","color":"#000"},
   "encoding":{"detail":{"field":"g"},"strokeWidth":{"field":"g","type":"ordinal","scale":{"domain":["Y","M","O"],"range":[2.2,0.9,0.9]},"legend":null},"strokeDash":{"field":"g","type":"nominal","scale":{"domain":["Y","M","O"],"range":[[1,0],[1,0],[3,2]]},"legend":null}}},
  {"data":{"name":"notes"},"transform":[{"filter":"datum.p==='AS'"}],"mark":{"type":"text"},"encoding":{"text":{"field":"t"}}}
 ]},
{"width":195,"height":155,
 "encoding":{"x":{"field":"x","type":"quantitative","scale":{"domain":[0,100],"nice":false,"zero":false},"axis":{"values":[0,50,100],"labelExpr":"datum.value + '%'","title":null}},
  "y":{"field":"y","type":"quantitative","scale":{"domain":[-0.6,0.4],"nice":false,"zero":false},"axis":{"values":[-0.6,-0.4,-0.2,0,0.2,0.4],"labelExpr":"'' + datum.value","title":null}}},
 "layer":[
  {"data":{"name":"curves"},"transform":[{"filter":"datum.p==='KS'"}],"mark":{"type":"line","interpolate":"monotone","color":"#000"},
   "encoding":{"detail":{"field":"g"},"strokeWidth":{"field":"g","type":"ordinal","scale":{"domain":["Y","M","O"],"range":[2.2,0.9,0.9]},"legend":null},"strokeDash":{"field":"g","type":"nominal","scale":{"domain":["Y","M","O"],"range":[[1,0],[1,0],[3,2]]},"legend":null}}},
  {"data":{"name":"notes"},"transform":[{"filter":"datum.p==='KS'"}],"mark":{"type":"text"},"encoding":{"text":{"field":"t"}}}
 ]},
{"width":195,"height":155,
 "encoding":{"x":{"field":"x","type":"quantitative","scale":{"domain":[0,100],"nice":false,"zero":false},"axis":{"values":[0,50,100],"labelExpr":"datum.value + '%'","title":null}},
  "y":{"field":"y","type":"quantitative","scale":{"domain":[-2,1],"nice":false,"zero":false},"axis":{"values":[-2,-1,0,1],"labelExpr":"'' + datum.value","title":null}}},
 "layer":[
  {"data":{"name":"curves"},"transform":[{"filter":"datum.p==='HS'"}],"mark":{"type":"line","interpolate":"monotone","color":"#000"},
   "encoding":{"detail":{"field":"g"},"strokeWidth":{"field":"g","type":"ordinal","scale":{"domain":["Y","M","O"],"range":[2.2,0.9,0.9]},"legend":null},"strokeDash":{"field":"g","type":"nominal","scale":{"domain":["Y","M","O"],"range":[[1,0],[1,0],[3,2]]},"legend":null}}},
  {"data":{"name":"notes"},"transform":[{"filter":"datum.p==='HS'"}],"mark":{"type":"text"},"encoding":{"text":{"field":"t"}}}
 ]},
{"width":195,"height":155,
 "encoding":{"x":{"field":"x","type":"quantitative","scale":{"domain":[0,100],"nice":false,"zero":false},"axis":{"values":[0,50,100],"labelExpr":"datum.value + '%'","title":null}},
  "y":{"field":"y","type":"quantitative","scale":{"domain":[-0.2,0.6],"nice":false,"zero":false},"axis":{"values":[-0.2,0,0.2,0.4,0.6],"labelExpr":"'' + datum.value","title":"Transverse"}}},
 "layer":[
  {"data":{"name":"curves"},"transform":[{"filter":"datum.p==='AT'"}],"mark":{"type":"line","interpolate":"monotone","color":"#000"},
   "encoding":{"detail":{"field":"g"},"strokeWidth":{"field":"g","type":"ordinal","scale":{"domain":["Y","M","O"],"range":[2.2,0.9,0.9]},"legend":null},"strokeDash":{"field":"g","type":"nominal","scale":{"domain":["Y","M","O"],"range":[[1,0],[1,0],[3,2]]},"legend":null}}},
  {"data":{"name":"notes"},"transform":[{"filter":"datum.p==='AT'"}],"mark":{"type":"text"},"encoding":{"text":{"field":"t"}}}
 ]},
{"width":195,"height":155,
 "encoding":{"x":{"field":"x","type":"quantitative","scale":{"domain":[0,100],"nice":false,"zero":false},"axis":{"values":[0,50,100],"labelExpr":"datum.value + '%'","title":null}},
  "y":{"field":"y","type":"quantitative","scale":{"domain":[-0.2,0.6],"nice":false,"zero":false},"axis":{"values":[-0.2,0,0.2,0.4,0.6],"labelExpr":"'' + datum.value","title":null}}},
 "layer":[
  {"data":{"name":"curves"},"transform":[{"filter":"datum.p==='KT'"}],"mark":{"type":"line","interpolate":"monotone","color":"#000"},
   "encoding":{"detail":{"field":"g"},"strokeWidth":{"field":"g","type":"ordinal","scale":{"domain":["Y","M","O"],"range":[2.2,0.9,0.9]},"legend":null},"strokeDash":{"field":"g","type":"nominal","scale":{"domain":["Y","M","O"],"range":[[1,0],[1,0],[3,2]]},"legend":null}}},
  {"data":{"name":"notes"},"transform":[{"filter":"datum.p==='KT'"}],"mark":{"type":"text"},"encoding":{"text":{"field":"t"}}}
 ]},
{"width":195,"height":155,
 "encoding":{"x":{"field":"x","type":"quantitative","scale":{"domain":[0,100],"nice":false,"zero":false},"axis":{"values":[0,50,100],"labelExpr":"datum.value + '%'","title":null}},
  "y":{"field":"y","type":"quantitative","scale":{"domain":[-0.4,0.4],"nice":false,"zero":false},"axis":{"values":[-0.4,-0.2,0,0.2,0.4],"labelExpr":"'' + datum.value","title":null}}},
 "layer":[
  {"data":{"name":"curves"},"transform":[{"filter":"datum.p==='HT'"}],"mark":{"type":"line","interpolate":"monotone","color":"#000"},
   "encoding":{"detail":{"field":"g"},"strokeWidth":{"field":"g","type":"ordinal","scale":{"domain":["Y","M","O"],"range":[2.2,0.9,0.9]},"legend":null},"strokeDash":{"field":"g","type":"nominal","scale":{"domain":["Y","M","O"],"range":[[1,0],[1,0],[3,2]]},"legend":null}}},
  {"data":{"name":"notes"},"transform":[{"filter":"datum.p==='HT'"}],"mark":{"type":"text"},"encoding":{"text":{"field":"t"}}}
 ]}
],
"config":{
 "font":"Liberation Serif",
 "view":{"stroke":null},
 "axis":{"grid":false,"domainColor":"#666","tickColor":"#666","tickSize":-3,"labelFont":"Liberation Serif","labelFontSize":15,"labelColor":"#000","labelPadding":3,"titleFont":"Liberation Serif","titleFontSize":15,"titleFontWeight":"normal","titleColor":"#000","labelOverlap":false,"labelFlush":false},
 "axisX":{"labelPadding":8},
 "axisY":{"titleX":-50.5,"titleY":77.5,"titleAngle":270,"titleBaseline":"middle","titleAlign":"center"},
 "title":{"font":"Liberation Serif","fontSize":15,"fontWeight":"normal","color":"#000","offset":-6,"frame":"group","baseline":"alphabetic"},
 "text":{"font":"Liberation Serif","fontSize":15,"color":"#000"}
}
}
